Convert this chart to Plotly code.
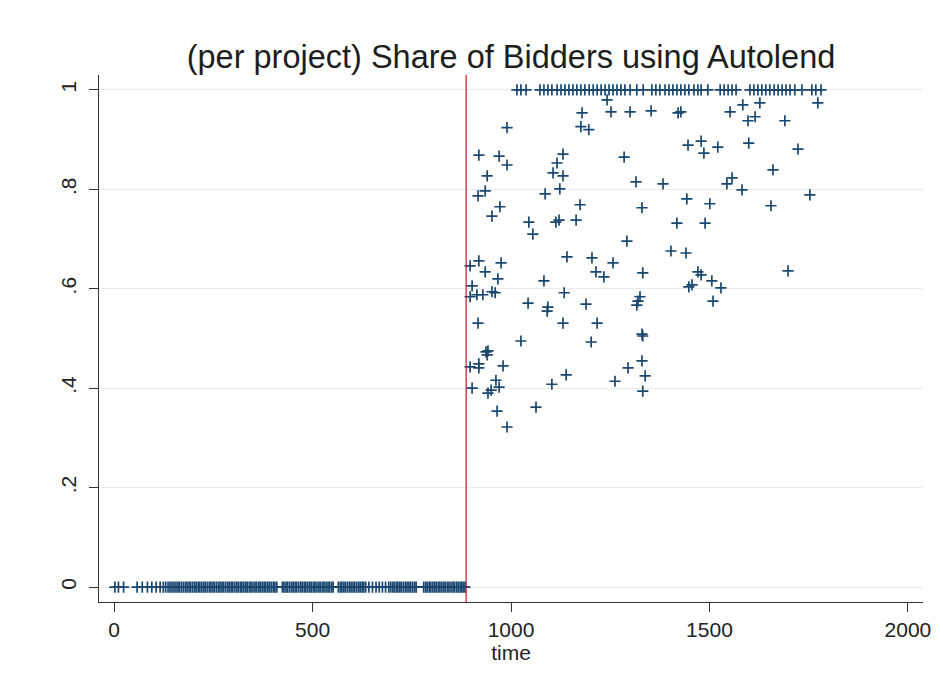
import plotly.graph_objects as go

# ---------------- data ----------------
# projects before autolend launch (share = 0)
time_zero = [2, 11, 24,
             58, 71, 84, 95, 106, 116, 124, 130, 136, 141, 146, 151, 156, 161, 165, 170,
             175, 180, 184, 189, 193, 198, 203, 207, 212, 216, 221, 226, 230, 235, 240,
             244, 249, 253, 258, 263, 267, 272, 276, 281, 286, 290, 295, 299, 304, 309,
             313, 318, 322, 327, 332, 336, 341, 345, 350, 355, 359, 364, 368, 373, 378,
             382, 387, 391, 396, 401, 405, 410, 424, 428, 433, 437, 442, 447, 451, 456,
             460, 465, 470, 474, 479, 483, 488, 493, 497, 502, 506, 511, 516, 520, 525,
             529, 534, 539, 543, 548, 552, 565, 570, 574, 579, 583, 588, 593, 597, 602,
             606, 611, 616, 620, 625, 629, 634, 642, 651, 660, 668, 676, 684, 692, 697,
             702, 706, 711, 715, 720, 724, 729, 734, 738, 743, 747, 752, 757, 761, 780,
             785, 789, 794, 798, 803, 808, 812, 817, 821, 826, 831, 835, 840, 844, 849,
             854, 858, 863, 867, 872, 876, 880, 884]
share_zero = [0] * len(time_zero)

# projects with every bidder using autolend (share = 1)
time_one = [1015, 1025, 1038,
            1073, 1083, 1093, 1103, 1116, 1126, 1136, 1146, 1156, 1166, 1176, 1186,
            1197, 1207, 1217, 1227, 1237, 1247, 1257, 1267, 1277, 1287, 1300, 1317,
            1333, 1355, 1365, 1375, 1388, 1398, 1408, 1418, 1428, 1438, 1448, 1461,
            1471, 1479, 1496, 1527, 1537, 1547, 1557, 1567, 1602, 1612, 1622, 1632,
            1642, 1652, 1663, 1673, 1683, 1693, 1703, 1715, 1733, 1758, 1768, 1781]
share_one = [1] * len(time_one)

# projects with partial autolend share
time_mid = [1242, 1179, 1252, 1300, 990, 1176, 1196, 919, 970, 990,
            1131, 1116, 1106, 1131, 1285, 940, 935, 917, 1123, 1086,
            1315, 972, 952, 1174, 1045, 1055, 1113, 1121, 1164, 1292,
            897, 919, 975, 1141, 1204, 1257, 935, 967, 1083, 1214,
            1234, 902, 897, 914, 929, 952, 960, 1134, 1043, 1093,
            1091, 1189, 1317, 917, 1131, 1217, 1025, 1202, 937, 942,
            940, 897, 919, 919, 980, 1295, 962, 970, 1139, 1103,
            1262, 902, 942, 950, 965, 1063, 990,
            1353, 1421, 1428, 1552, 1584, 1627, 1597, 1615, 1690, 1773,
            1446, 1479, 1486, 1521, 1599, 1723, 1660, 1383, 1557, 1544,
            1582, 1753, 1443, 1501, 1330, 1655, 1418, 1489, 1403, 1441,
            1332, 1471, 1479, 1506, 1529, 1456, 1448, 1509, 1698, 1325,
            1320, 1330, 1332, 1330, 1338, 1332]
share_mid = [0.980, 0.954, 0.956, 0.956, 0.924, 0.926, 0.920, 0.869, 0.867, 0.849,
             0.871, 0.853, 0.833, 0.827, 0.865, 0.827, 0.797, 0.787, 0.801, 0.791,
             0.815, 0.765, 0.746, 0.769, 0.734, 0.710, 0.734, 0.738, 0.738, 0.696,
             0.646, 0.656, 0.652, 0.664, 0.662, 0.652, 0.634, 0.620, 0.616, 0.634,
             0.624, 0.606, 0.584, 0.588, 0.588, 0.594, 0.592, 0.592, 0.571, 0.563,
             0.555, 0.569, 0.567, 0.531, 0.531, 0.531, 0.495, 0.493, 0.473, 0.475,
             0.467, 0.443, 0.449, 0.441, 0.445, 0.441, 0.416, 0.402, 0.427, 0.408,
             0.414, 0.400, 0.390, 0.396, 0.354, 0.362, 0.322,
             0.958, 0.954, 0.956, 0.956, 0.970, 0.974, 0.938, 0.946, 0.938, 0.974,
             0.889, 0.897, 0.873, 0.885, 0.893, 0.881, 0.839, 0.811, 0.823, 0.811,
             0.799, 0.789, 0.781, 0.771, 0.763, 0.767, 0.732, 0.732, 0.676, 0.672,
             0.632, 0.634, 0.628, 0.616, 0.602, 0.608, 0.604, 0.575, 0.636, 0.584,
             0.575, 0.509, 0.505, 0.455, 0.425, 0.394]

launch_time = 887

x_tick_vals = [0, 500, 1000, 1500, 2000]
x_tick_text = ["0", "500", "1000", "1500", "2000"]
y_tick_vals = [0, 0.2, 0.4, 0.6, 0.8, 1]
y_tick_text = ["0", ".2", ".4", ".6", ".8", "1"]

title_text = "(per project) Share of Bidders using Autolend"
x_title = "time"

# ---------------- figure ----------------
xs = time_zero + time_one + time_mid
ys = share_zero + share_one + share_mid

navy = "#1a476f"
fig = go.Figure()
fig.add_trace(go.Scatter(
    x=xs, y=ys, mode="markers",
    marker=dict(symbol="cross-thin", size=8, color=navy,
                line=dict(color=navy, width=1.7)),
    showlegend=False, hoverinfo="x+y",
))

fig.add_shape(type="line", xref="x", yref="paper",
              x0=launch_time, x1=launch_time, y0=0, y1=1,
              line=dict(color="#c8102e", width=1.2))

font_family = "Liberation Sans, Arial, sans-serif"
fig.update_layout(
    width=940, height=685,
    margin=dict(l=91, r=25, t=67, b=91, autoexpand=False),
    paper_bgcolor="white", plot_bgcolor="white",
    font=dict(family=font_family, color="#222222"),
    title=dict(text=title_text, x=0.5, xref="paper", xanchor="center",
               y=1 - 49 / 685, yref="container", yanchor="middle",
               font=dict(size=32.5, color="#1e1e1e", family=font_family)),
)
fig.update_xaxes(
    range=[-38, 2038], tickvals=x_tick_vals, ticktext=x_tick_text,
    automargin=False,
    showline=True, linecolor="#333333", linewidth=1.2, mirror=False,
    ticks="outside", ticklen=9, tickwidth=1.2, tickcolor="#333333",
    tickfont=dict(size=21, color="#222222"),
    showgrid=False, zeroline=False,
    title=dict(text=x_title, font=dict(size=21, color="#222222"), standoff=0),
)
fig.update_yaxes(
    range=[-0.030, 1.030], tickvals=y_tick_vals, ticktext=y_tick_text,
    automargin=False,
    showline=True, linecolor="#333333", linewidth=1.2, mirror=False,
    ticks="outside", ticklen=9, tickwidth=1.2, tickcolor="#333333",
    tickfont=dict(size=21, color="#222222"), tickangle=-90,
    ticklabelstandoff=5,
    showgrid=True, gridcolor="#ebebeb", gridwidth=1, zeroline=False,
)

fig.write_html("out.html")
